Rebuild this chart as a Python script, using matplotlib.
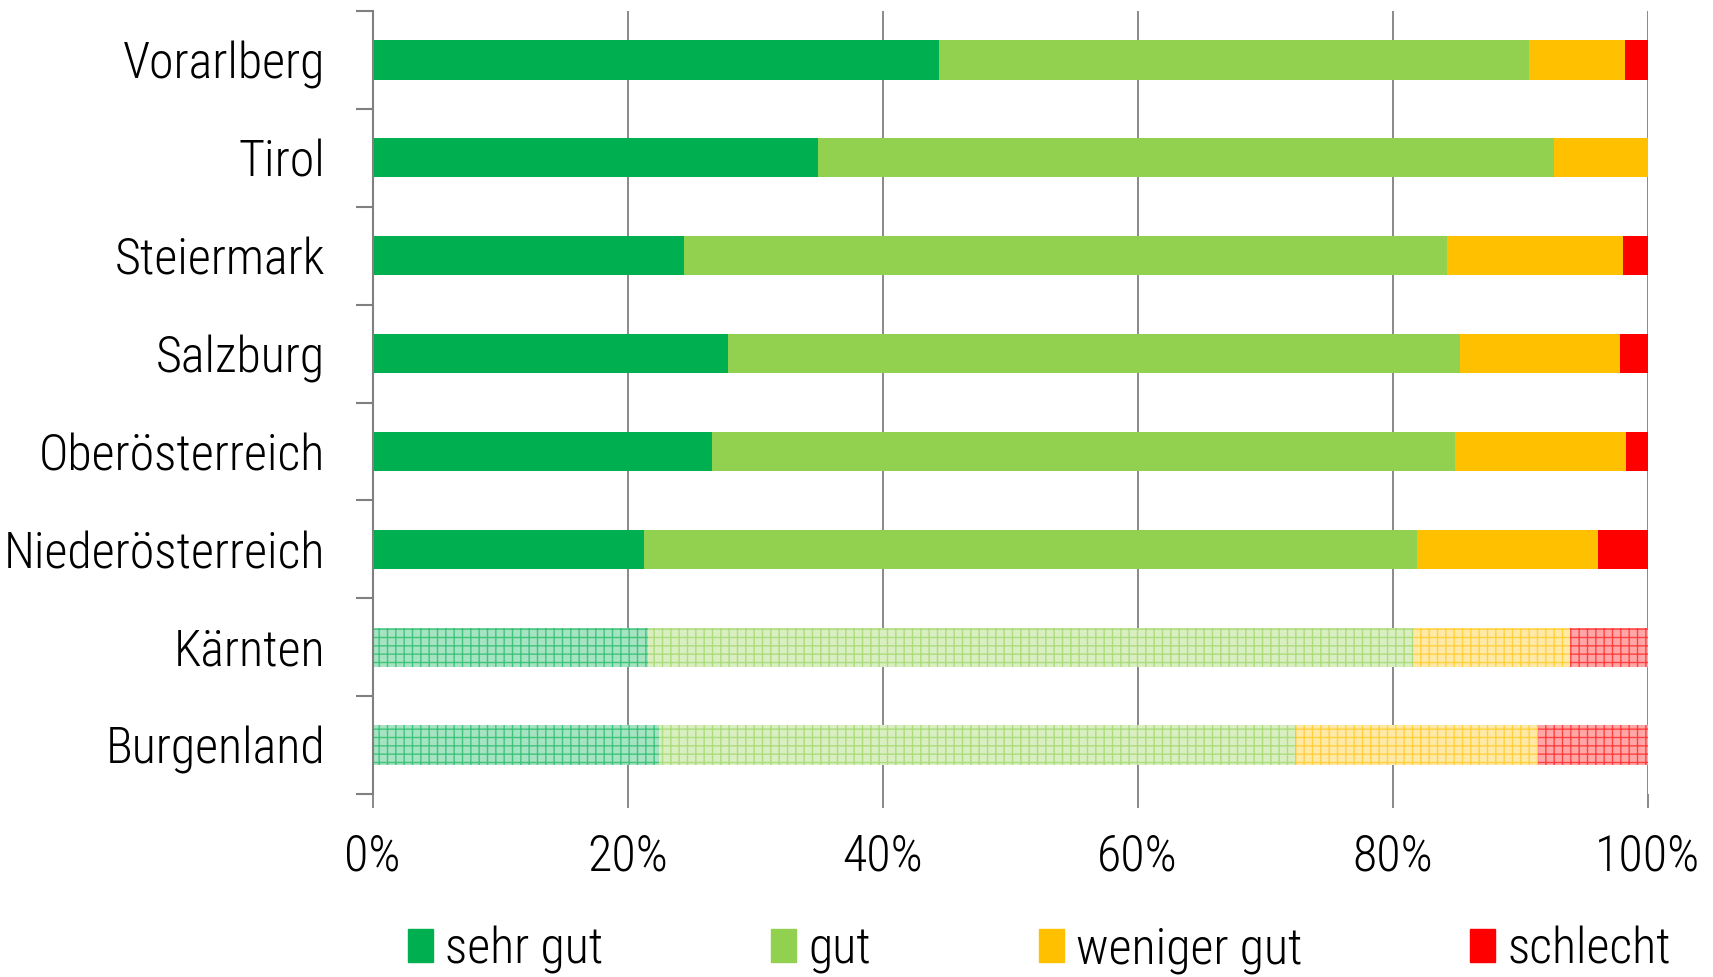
import matplotlib
matplotlib.use("Agg")
import matplotlib.pyplot as plt
import matplotlib.patches as mpatches
import matplotlib.colors as mcolors
import numpy as np

plt.rcParams['font.family'] = ['Roboto Condensed', 'Archivo Narrow', 'DejaVu Sans']
plt.rcParams['font.weight'] = 'light'

# data (percent), bottom to top
regions = ['Burgenland', 'Kärnten', 'Niederösterreich', 'Oberösterreich',
           'Salzburg', 'Steiermark', 'Tirol', 'Vorarlberg']
sehr_gut = [22.5, 21.6, 21.3, 26.6, 27.9, 24.4, 34.9, 44.4]
gut = [49.9, 60.0, 60.6, 58.3, 57.4, 59.9, 57.8, 46.3]
weniger_gut = [19.0, 12.3, 14.2, 13.4, 12.5, 13.8, 7.3, 7.5]
schlecht = [8.6, 6.1, 3.9, 1.7, 2.2, 1.9, 0.0, 1.8]
hatched = ['Burgenland', 'Kärnten']

series = [('sehr gut', sehr_gut, '#00B050'),
          ('gut', gut, '#92D050'),
          ('weniger gut', weniger_gut, '#FFC000'),
          ('schlecht', schlecht, '#FF0000')]


def blend(c, amt):
    r = np.array(mcolors.to_rgb(c))
    return tuple(r * amt + (1 - amt))


fig = plt.figure(figsize=(17.13, 9.77), dpi=100)
ax = fig.add_axes([0.2175, 0.1873, 0.7443, 0.8014])

y = np.arange(len(regions))
left = np.zeros(len(regions))
for name, vals, col in series:
    vals = np.array(vals)
    for i, reg in enumerate(regions):
        if vals[i] <= 0:
            continue
        if reg in hatched:
            ax.barh(y[i], vals[i], left=left[i], height=0.4,
                    color=blend(col, 0.35), edgecolor=blend(col, 0.75),
                    hatch='++', linewidth=0, zorder=3)
        else:
            ax.barh(y[i], vals[i], left=left[i], height=0.4,
                    color=col, linewidth=0, zorder=3)
    left += vals

ax.set_xlim(0, 100)
ax.set_ylim(-0.5, len(regions) - 0.5)

ax.set_xticks(np.arange(0, 101, 20))
ax.set_xticklabels([f'{v}%' for v in range(0, 101, 20)], fontsize=36)
ax.grid(axis='x', color='#808080', linewidth=1.3, zorder=1)
ax.tick_params(axis='x', length=10, width=1.3, color='#808080', pad=18)

ax.set_yticks(y)
ax.set_yticklabels(regions, fontsize=36)
ax.set_yticks(np.arange(-0.5, len(regions)), minor=True)
ax.tick_params(axis='y', which='major', length=0, pad=34)
ax.tick_params(axis='y', which='minor', length=12, width=1.5, color='#808080')

for s in ['top', 'right', 'bottom']:
    ax.spines[s].set_visible(False)
ax.spines['left'].set_color('#808080')
ax.spines['left'].set_linewidth(1.5)
ax.spines['left'].set_zorder(4)

handles = [mpatches.Patch(color=col, label=name) for name, _, col in series]
fig.legend(handles=handles, loc='center', bbox_to_anchor=(0.607, 0.028),
           ncol=4, frameon=False, fontsize=36, handlelength=0.5,
           handleheight=0.65, handletextpad=0.25, columnspacing=3.35,
           borderaxespad=0)

fig.savefig('out.png', dpi=100)
